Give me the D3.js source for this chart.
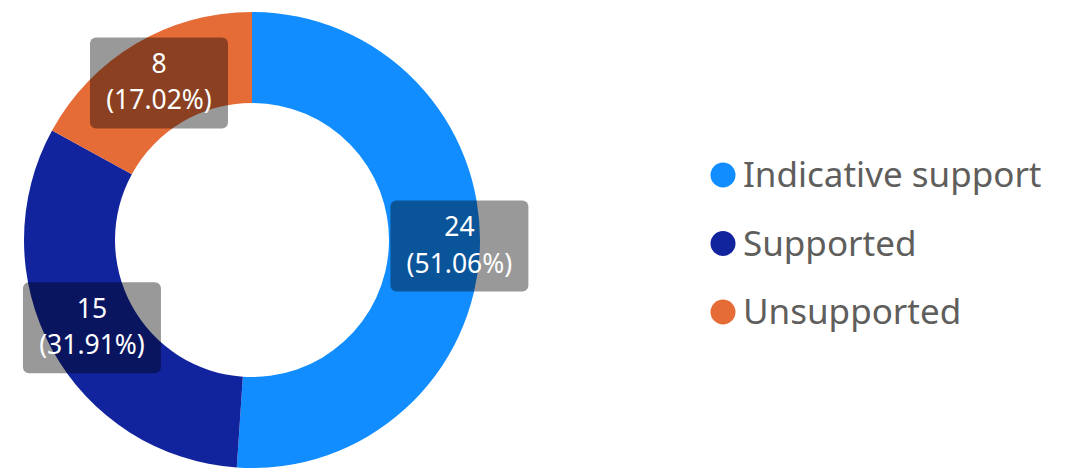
<!DOCTYPE html>
<html>
<head>
<meta charset="utf-8">
<script src="https://cdn.jsdelivr.net/npm/d3@7"></script>
<style>
	html, body { margin: 0; padding: 0; background: #fff; }
	svg { display: block; font-family: 'Segoe UI', 'Noto Sans', sans-serif; }
</style>
</head>
<body>
<svg id="chart"></svg>
<script>
// categories and values
const categories = [ 'Indicative support', 'Supported', 'Unsupported' ];
const counts = [ 24, 15, 8 ];
const colours = [ '#118DFF', '#12239E', '#E66C37' ];

const width = 1071;
const height = 471;

const svg = d3.select( '#chart' )
	.attr( 'width', width )
	.attr( 'height', height );

/**
 * Donut
 */
const cx = 252;
const cy = 240;
const outerRadius = 228;
const innerRadius = 137;

const total = d3.sum( counts );
const color = d3.scaleOrdinal().domain( categories ).range( colours );

const pie = d3.pie()
	.value( ( d ) => d.value )
	.sort( null );

const arcs = pie( categories.map( ( c, i ) => ( { key: c, value: counts[ i ] } ) ) );

const arc = d3.arc()
	.innerRadius( innerRadius )
	.outerRadius( outerRadius );

const g = svg.append( 'g' )
	.attr( 'transform', `translate(${ cx },${ cy })` );

g.selectAll( 'path.slice' )
	.data( arcs )
	.join( 'path' )
	.attr( 'class', 'slice' )
	.attr( 'fill', ( d ) => color( d.data.key ) )
	.attr( 'd', arc );

// data labels: count and share, on a dark translucent box
const boxW = 138;
const boxH = 91;
// the first label sits a bit further out in the reference
const nudge = ( i ) => ( i === 0 ? 25 : 0 );

const label = g.selectAll( 'g.label' )
	.data( arcs )
	.join( 'g' )
	.attr( 'class', 'label' )
	.attr( 'transform', ( d, i ) => {
		const [ x, y ] = arc.centroid( d );
		return `translate(${ x + nudge( i ) },${ y })`;
	} );

label.append( 'rect' )
	.attr( 'x', -boxW / 2 )
	.attr( 'y', -boxH / 2 )
	.attr( 'width', boxW )
	.attr( 'height', boxH )
	.attr( 'rx', 6 )
	.attr( 'fill', 'rgba(0,0,0,0.4)' );

label.selectAll( 'text' )
	.data( ( d ) => [ d.value, `(${ d3.format( '.2f' )( d.value / total * 100 ) }%)` ] )
	.join( 'text' )
	.attr( 'text-anchor', 'middle' )
	.attr( 'fill', '#fff' )
	.style( 'font-size', '26.5px' )
	.attr( 'y', ( d, i ) => ( i === 0 ? -10 : 26.5 ) )
	.text( ( d ) => d );

/**
 * Legend
 */
const legendY = d3.scalePoint()
	.domain( categories )
	.range( [ 175, 312 ] );

const legend = svg.append( 'g' )
	.selectAll( 'g' )
	.data( categories )
	.join( 'g' )
	.attr( 'transform', ( d ) => `translate(723,${ legendY( d ) })` );

legend.append( 'circle' )
	.attr( 'r', 12.5 )
	.attr( 'fill', ( d ) => color( d ) );

legend.append( 'text' )
	.attr( 'x', 20 )
	.attr( 'dy', '0.35em' )
	.attr( 'fill', '#605E5C' )
	.style( 'font-size', '35px' )
	.text( ( d ) => d );
</script>
</body>
</html>
